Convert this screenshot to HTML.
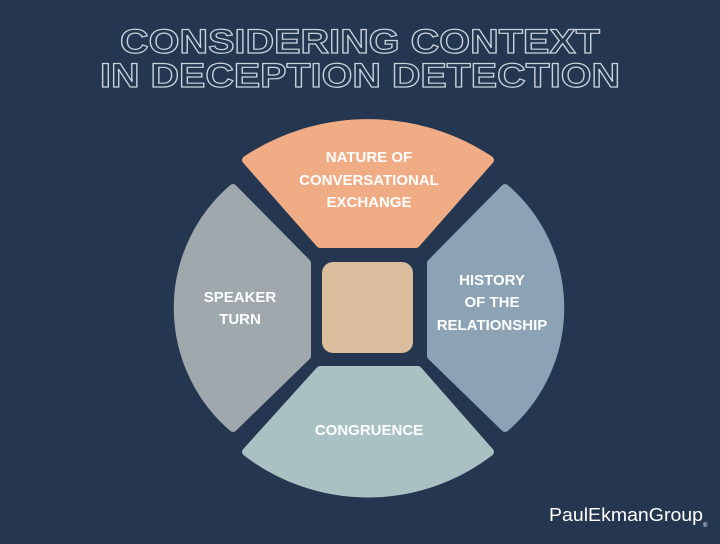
<!DOCTYPE html>
<html><head><meta charset="utf-8"><style>
html,body{margin:0;padding:0;background:#253650;}
body{width:720px;height:539px;overflow:hidden;position:relative;font-family:"Liberation Sans",sans-serif;}
</style></head><body>
<svg width="720" height="539" viewBox="0 0 720 539" xmlns="http://www.w3.org/2000/svg">
<rect width="720" height="539" fill="#253650"/>
<g font-family="Liberation Sans, sans-serif" font-weight="bold" font-size="34" fill="none" stroke="#c9d3dc" stroke-width="1.2" text-anchor="middle">
<text x="360" y="53" textLength="480" lengthAdjust="spacingAndGlyphs">CONSIDERING CONTEXT</text>
<text x="360" y="87" textLength="520" lengthAdjust="spacingAndGlyphs">IN DECEPTION DETECTION</text>
</g>
<g stroke-linejoin="round">
<path d="M246,160 A220,220 0 0 1 490,160 L416,244 L320,244 Z" fill="#f0ad85" stroke="#f0ad85" stroke-width="8"/>
<path d="M233,188 L307,263 L307,356 L233,428 A158,158 0 0 1 233,188 Z" fill="#9ea8ad" stroke="#9ea8ad" stroke-width="8"/>
<path d="M505,188 L431,263 L431,356 L505,428 A158,158 0 0 0 505,188 Z" fill="#8ba3b5" stroke="#8ba3b5" stroke-width="8"/>
<path d="M320,370 L418,370 L490,452 A200,200 0 0 1 246,452 Z" fill="#a9c1c3" stroke="#a9c1c3" stroke-width="8"/>
</g>
<rect x="322" y="262" width="91" height="91" rx="11" fill="#d9bd9c"/>
<g font-family="Liberation Sans, sans-serif" font-weight="bold" font-size="15" fill="#ffffff" text-anchor="middle">
<text x="369" y="162">NATURE OF</text>
<text x="369" y="185">CONVERSATIONAL</text>
<text x="369" y="207">EXCHANGE</text>
<text x="240" y="302">SPEAKER</text>
<text x="240" y="324">TURN</text>
<text x="492" y="285">HISTORY</text>
<text x="492" y="307">OF THE</text>
<text x="492" y="330">RELATIONSHIP</text>
<text x="369" y="435">CONGRUENCE</text>
</g>
<text x="549" y="521" font-family="Liberation Sans, sans-serif" font-size="18" fill="#ffffff" textLength="154" lengthAdjust="spacingAndGlyphs">PaulEkmanGroup</text>
<text x="703" y="527" font-family="Liberation Sans, sans-serif" font-size="6" fill="#ffffff">®</text>
</svg>
</body></html>
